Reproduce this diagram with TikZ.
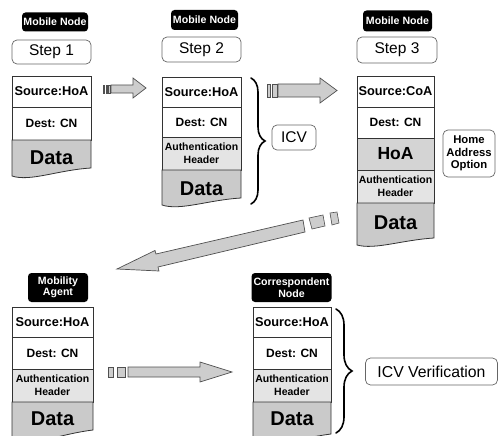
\documentclass[tikz,border=0pt]{standalone}
\usepackage{fontspec}
\setmainfont{Liberation Sans}
\usetikzlibrary{decorations.pathreplacing}

\definecolor{edge}{HTML}{333333}
\definecolor{ahfill}{HTML}{E4E4E4}
\definecolor{hoafill}{HTML}{D4D4D4}
\definecolor{datafill}{HTML}{CACACA}
\definecolor{arrowfill}{HTML}{CDCDCD}
\definecolor{arrowedge}{HTML}{505050}

\newcommand\pktsize[1]{\fontsize{#1}{#1}\selectfont}

\begin{document}
\begin{tikzpicture}[x=1pt,y=-1pt,
  every node/.style={inner sep=0pt, outer sep=0pt},
  tag/.style={fill=black, text=white, rounded corners=3.5pt, align=center,
    font=\bfseries\fontsize{10.6}{11.5}\selectfont},
  stepbox/.style={draw=edge!75, line width=0.7pt, rounded corners=5pt,
    font=\fontsize{15.5}{16}\selectfont},
  note/.style={draw=edge!75, line width=0.7pt, rounded corners=5pt, align=center},
  cell/.style={draw=edge, line width=0.8pt, align=center},
  src/.style={cell, font=\bfseries\pktsize{12.8}},
  dst/.style={cell, font=\bfseries\pktsize{12}},
  ah/.style={cell, fill=ahfill, font=\bfseries\fontsize{10.5}{13}\selectfont},
  hoa/.style={cell, fill=hoafill, font=\bfseries\pktsize{17.5}},
  datarow/.style={draw=edge, line width=0.8pt, fill=datafill},
  datatext/.style={font=\bfseries\pktsize{20}},
  blockarrow/.style={draw=arrowedge, line width=0.7pt, fill=arrowfill, line join=miter},
  curly/.style={decorate, decoration={brace, amplitude=#1}, line width=1.6pt, line cap=round}
]
\useasboundingbox (0,0) rectangle (498,436);
\clip (0,0) rectangle (498,436);

% ---------------- Step 1 ----------------
\node[tag, minimum width=66pt, minimum height=19pt] (t1) at (55,22) {Mobile Node};
\node[stepbox, minimum width=79pt, minimum height=24pt] (st1) at (51.5,52) {Step 1};
\node[src, minimum width=79pt, minimum height=31pt] (a1) at (51.5,91.5) {Source:HoA};
\node[dst, minimum width=79pt, minimum height=33pt] (a2) at (51.5,123.5) {Dest: CN};
\filldraw[datarow] (12,140) -- (12,176) .. controls (30,182) and (58,170) .. (91,168) -- (91,140) -- cycle;
\node[datatext] (a3) at (51.5,157.5) {Data};

% arrow 1 -> 2
\filldraw[blockarrow] (111,85) -- (133,85) -- (133,78) -- (146,88) -- (133,98) -- (133,93) -- (111,93) -- cycle;
\filldraw[blockarrow, line width=0.5pt] (103,85) rectangle (104.6,93);
\filldraw[blockarrow, line width=0.5pt] (105.8,85) rectangle (107.4,93);
\filldraw[blockarrow, line width=0.5pt] (108.6,85) rectangle (110.2,93);

% ---------------- Step 2 ----------------
\node[tag, minimum width=67pt, minimum height=20pt] (t2) at (204.5,20) {Mobile Node};
\node[stepbox, minimum width=79pt, minimum height=25pt] (st2) at (201.5,49.5) {Step 2};
\node[src, minimum width=79pt, minimum height=30pt] (b1) at (201.5,92) {Source:HoA};
\node[dst, minimum width=79pt, minimum height=30pt] (b2) at (201.5,122) {Dest: CN};
\node[ah, minimum width=79pt, minimum height=33pt] (b3) at (201.5,153.5) {Authentication\\Header};
\filldraw[datarow] (162,170) -- (162,205) .. controls (180,211) and (208,200) .. (241,198) -- (241,170) -- cycle;
\node[datatext] (b4) at (201.5,189) {Data};
\draw[curly=14pt] (251,78) -- (251,204);
\node[note, minimum width=44pt, minimum height=25pt, font=\fontsize{15.5}{16}\selectfont] (icv) at (294,137.5) {ICV};

% arrow 2 -> 3
\filldraw[blockarrow] (278,84) -- (320,84) -- (320,78) -- (337,90.5) -- (320,103) -- (320,97) -- (278,97) -- cycle;
\filldraw[blockarrow, line width=0.5pt] (267,84) rectangle (270,97);
\filldraw[blockarrow, line width=0.5pt] (272,84) rectangle (277,97);

% ---------------- Step 3 ----------------
\node[tag, minimum width=69pt, minimum height=21pt] (t3) at (397.5,21) {Mobile Node};
\node[stepbox, minimum width=80pt, minimum height=26pt] (st3) at (397,50) {Step 3};
\node[src, minimum width=77pt, minimum height=31pt] (c1) at (395.5,91.5) {Source:CoA};
\node[dst, minimum width=77pt, minimum height=31pt] (c2) at (395.5,122.5) {Dest: CN};
\node[hoa, minimum width=77pt, minimum height=32pt] (c3) at (395.5,154) {HoA};
\node[ah, minimum width=77pt, minimum height=33pt] (c4) at (395.5,186.5) {Authentication\\Header};
\filldraw[datarow] (357,203) -- (357,245) .. controls (375,250) and (402,240) .. (434,238) -- (434,203) -- cycle;
\node[datatext] (c5) at (395.5,223) {Data};
\node[note, minimum width=52pt, minimum height=47pt, font=\bfseries\fontsize{11.3}{12.5}\selectfont] (hao) at (469,153.5) {Home\\Address\\Option};

% diagonal arrow 3 -> mobility agent
\filldraw[blockarrow] (117,269) -- (155,250.5) -- (156,254) -- (303,220) -- (305,232) -- (158,267) -- (159,271) -- cycle;
\filldraw[blockarrow, line width=0.6pt] (309,218) -- (323,215) -- (325,226) -- (312,229) -- cycle;
\filldraw[blockarrow, line width=0.6pt] (330,213) -- (337,212) -- (339,223) -- (332,225) -- cycle;

% ---------------- Mobility Agent ----------------
\node[tag, minimum width=60pt, minimum height=29pt] (t4) at (58,287.5) {Mobility\\Agent};
\node[src, minimum width=81pt, minimum height=30pt] (d1) at (52.5,322) {Source:HoA};
\node[dst, minimum width=81pt, minimum height=32pt] (d2) at (52.5,353) {Dest: CN};
\node[ah, minimum width=81pt, minimum height=33pt] (d3) at (52.5,385.5) {Authentication\\Header};
\filldraw[datarow] (12,402) -- (12,442) .. controls (30,447) and (60,434) .. (93,430) -- (93,402) -- cycle;
\node[datatext] (d4) at (52.5,419) {Data};

% arrow mobility agent -> correspondent
\filldraw[blockarrow] (128,367) -- (200,367) -- (200,362) -- (232,372) -- (200,382) -- (200,377) -- (128,377) -- cycle;
\filldraw[blockarrow, line width=0.5pt] (108,367) rectangle (113,377);
\filldraw[blockarrow, line width=0.5pt] (117,367) rectangle (125,377);

% ---------------- Correspondent Node ----------------
\node[tag, minimum width=80pt, minimum height=29pt] (t5) at (291.5,287.5) {Correspondent\\Node};
\node[src, minimum width=78pt, minimum height=30pt] (e1) at (292,322) {Source:HoA};
\node[dst, minimum width=78pt, minimum height=32pt] (e2) at (292,353) {Dest: CN};
\node[ah, minimum width=78pt, minimum height=33pt] (e3) at (292,385.5) {Authentication\\Header};
\filldraw[datarow] (253,402) -- (253,444) .. controls (270,448) and (300,438) .. (331,434) -- (331,402) -- cycle;
\node[datatext] (e4) at (292,419) {Data};
\draw[curly=16pt] (336,309) -- (336,433);
\node[note, minimum width=132pt, minimum height=27pt, font=\fontsize{15.8}{16}\selectfont] (icvv) at (431.5,371.5) {ICV Verification};
\end{tikzpicture}
\end{document}
